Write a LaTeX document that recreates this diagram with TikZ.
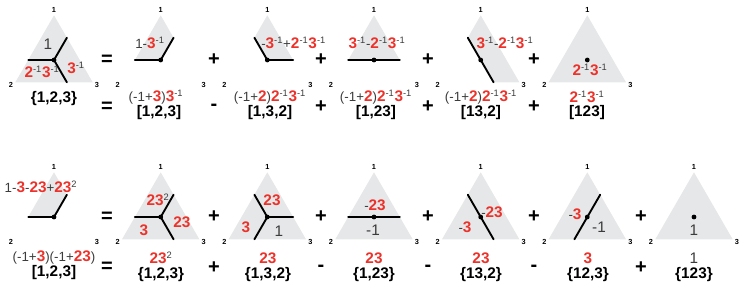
\documentclass[tikz,border=0pt]{standalone}
\usepackage{fontspec}
\setmainfont{Liberation Sans}
\definecolor{face}{RGB}{230,231,232}
\definecolor{myred}{RGB}{236,50,42}
\definecolor{ink}{RGB}{60,60,60}
\newcommand{\rd}[1]{\textcolor{myred}{\bfseries\fontsize{11.5}{12}\selectfont #1}}
\newcommand{\up}[1]{\textsuperscript{#1}}
\tikzset{
  corner/.style={font=\bfseries\fontsize{5.5}{6}\selectfont, inner sep=0pt},
  wall/.style={line width=1.4pt, line cap=round},
  vtx/.style={circle, fill=black, inner sep=0pt, minimum size=3.6pt},
  coef/.style={font=\fontsize{10}{12}\selectfont, text=ink, inner sep=0pt},
  tag/.style={font=\bfseries\fontsize{11.5}{12}\selectfont, inner sep=0pt},
  sgn/.style={font=\bfseries\fontsize{15}{15}\selectfont, inner sep=0pt},
}
\begin{document}
\begin{tikzpicture}[x=0.75pt,y=-0.75pt]
\useasboundingbox (0,0) rectangle (747,286);
% triangle frames, named by their centroids
\foreach \n/\x/\y in {t1/54/60,t2/160.7/60,t3/267.3/60,t4/374/60,t5/480.7/60,t6/587.3/60,
    b1/54/217,b2/160.7/217,b3/267.3/217,b4/374/217,b5/480.7/217,b6/587.3/217,b7/694/217}{
  \begin{scope}[shift={(\x,\y)}]
    \coordinate (\n-o) at (0,0);
    \coordinate (\n-a) at (0,-44.7);
    \coordinate (\n-b) at (-38.7,22.3);
    \coordinate (\n-c) at (38.7,22.3);
    \coordinate (\n-l) at (-25.8,0);
    \coordinate (\n-r) at (25.8,0);
    \coordinate (\n-ul) at (-12.9,-22.3);
    \coordinate (\n-ur) at (12.9,-22.3);
    \coordinate (\n-dl) at (-12.9,22.3);
    \coordinate (\n-dr) at (12.9,22.3);
    \node[corner] (\n-1) at (0,-50) {1};
    \node[corner] (\n-2) at (-43,24.5) {2};
    \node[corner] (\n-3) at (43,24.5) {3};
  \end{scope}
}
% shaded faces
\foreach \n in {t1,t6,b2,b3,b4,b5,b6,b7}
  \fill[face] (\n-a) -- (\n-b) -- (\n-c) -- cycle;
\fill[face] (t2-a) -- (t2-l) -- (t2-o) -- (t2-ur) -- cycle;
\fill[face] (t3-a) -- (t3-ul) -- (t3-o) -- (t3-r) -- cycle;
\fill[face] (t4-a) -- (t4-l) -- (t4-r) -- cycle;
\fill[face] (t5-ul) -- (t5-a) -- (t5-c) -- (t5-dr) -- cycle;
\fill[face] (b1-a) -- (b1-l) -- (b1-o) -- (b1-ur) -- cycle;
% walls
\draw[wall] (t1-l) -- (t1-o) -- (t1-ur) (t1-o) -- (t1-dr);
\draw[wall] (t2-l) -- (t2-o) -- (t2-ur);
\draw[wall] (t3-ul) -- (t3-o) -- (t3-r);
\draw[wall] (t4-l) -- (t4-r);
\draw[wall] (t5-ul) -- (t5-dr);
\draw[wall] (b1-l) -- (b1-o) -- (b1-ur);
\draw[wall] (b2-l) -- (b2-o) -- (b2-ur) (b2-o) -- (b2-dr);
\draw[wall] (b3-r) -- (b3-o) -- (b3-ul) (b3-o) -- (b3-dl);
\draw[wall] (b4-l) -- (b4-r);
\draw[wall] (b5-ul) -- (b5-dr);
\draw[wall] (b6-dl) -- (b6-ur);
\foreach \n in {t1,t2,t3,t4,t5,t6,b1,b2,b3,b4,b5,b6,b7}
  \node[vtx] (\n-v) at (\n-o) {};
% top row
\node[coef] (t1x) at (48,44) {\fontsize{11.5}{12}\selectfont 1};
\node[coef] (t1y) at (42,72) {\rd{2}\up{-1}\rd{3}\up{-1}};
\node[coef] (t1z) at (76,68) {\rd{3}\up{-1}};
\node[coef] (t2x) at (150,43) {1-\rd{3}\up{-1}};
\node[coef, anchor=west] (t3x) at (261,43) {-\rd{3}\up{-1}+\rd{2}\up{-1}\rd{3}\up{-1}};
\node[coef] (t4x) at (377,43) {\rd{3}\up{-1}-\rd{2}\up{-1}\rd{3}\up{-1}};
\node[coef] (t5x) at (505,43) {\rd{3}\up{-1}-\rd{2}\up{-1}\rd{3}\up{-1}};
\node[coef] (t6x) at (590,70) {\rd{2}\up{-1}\rd{3}\up{-1}};
\node[tag] (t1t) at (54,99) {\{1,2,3\}};
\node[coef] (t2f) at (156,97) {(-1+\rd{3})\rd{3}\up{-1}};
\node[tag] (t2t) at (159,113) {[1,2,3]};
\node[coef] (t3f) at (270,97) {(-1+\rd{2})\rd{2}\up{-1}\rd{3}\up{-1}};
\node[tag] (t3t) at (270,113) {[1,3,2]};
\node[coef] (t4f) at (376,97) {(-1+\rd{2})\rd{2}\up{-1}\rd{3}\up{-1}};
\node[tag] (t4t) at (376,113) {[1,23]};
\node[coef] (t5f) at (481,97) {(-1+\rd{2})\rd{2}\up{-1}\rd{3}\up{-1}};
\node[tag] (t5t) at (481,113) {[13,2]};
\node[coef] (t6f) at (587,97) {\rd{2}\up{-1}\rd{3}\up{-1}};
\node[tag] (t6t) at (587,113) {[123]};
% bottom row
\node[coef] (b1x) at (41,187) {1-\rd{3}-\rd{23}+\rd{23}\up{2}};
\node[coef] (b1f) at (54,258) {(-1+\rd{3})(-1+\rd{23})};
\node[tag] (b1t) at (54,273) {[1,2,3]};
\node[coef] (b2x) at (158,200) {\rd{23}\up{2}};
\node[coef] (b2y) at (182,222) {\rd{23}};
\node[coef] (b2z) at (144,230) {\rd{3}};
\node[coef] (b2f) at (161,258) {\rd{23}\up{2}};
\node[tag] (b2t) at (161,275) {\{1,2,3\}};
\node[coef] (b3x) at (272,200) {\rd{23}};
\node[coef] (b3y) at (246,227) {\rd{3}};
\node[coef] (b3z) at (279,231) {\fontsize{11.5}{12}\selectfont 1};
\node[coef] (b3f) at (268,258) {\rd{23}};
\node[tag] (b3t) at (268,275) {\{1,3,2\}};
\node[coef] (b4x) at (375,205) {-\rd{23}};
\node[coef] (b4y) at (373,230) {\fontsize{11.5}{12}\selectfont -1};
\node[coef] (b4f) at (374,258) {\rd{23}};
\node[tag] (b4t) at (374,275) {\{1,23\}};
\node[coef] (b5x) at (492,212) {-\rd{23}};
\node[coef] (b5y) at (465,227) {-\rd{3}};
\node[coef] (b5f) at (481,258) {\rd{23}};
\node[tag] (b5t) at (481,275) {\{13,2\}};
\node[coef] (b6x) at (575,214) {-\rd{3}};
\node[coef] (b6y) at (599,227) {\fontsize{11.5}{12}\selectfont -1};
\node[coef] (b6f) at (588,258) {\rd{3}};
\node[tag] (b6t) at (588,275) {\{12,3\}};
\node[coef] (b7y) at (694,230) {\fontsize{11.5}{12}\selectfont 1};
\node[coef] (b7f) at (694,258) {\fontsize{11.5}{12}\selectfont 1};
\node[tag] (b7t) at (694,275) {\{123\}};
% signs
\foreach \s/\x/\y [count=\i] in {=/107/60,=/107/107,=/107/217,=/107/267,
    +/214/60,+/321/60,+/428/60,+/534/60,
    -/214/107,+/321/107,+/428/107,+/534/107,
    +/214/217,+/321/217,+/428/217,+/534/217,+/641/217,
    +/214/268,-/321/268,-/428/268,-/534/268,+/641/268}
  \node[sgn] (s\i) at (\x,\y) {\s};
\end{tikzpicture}
\end{document}
